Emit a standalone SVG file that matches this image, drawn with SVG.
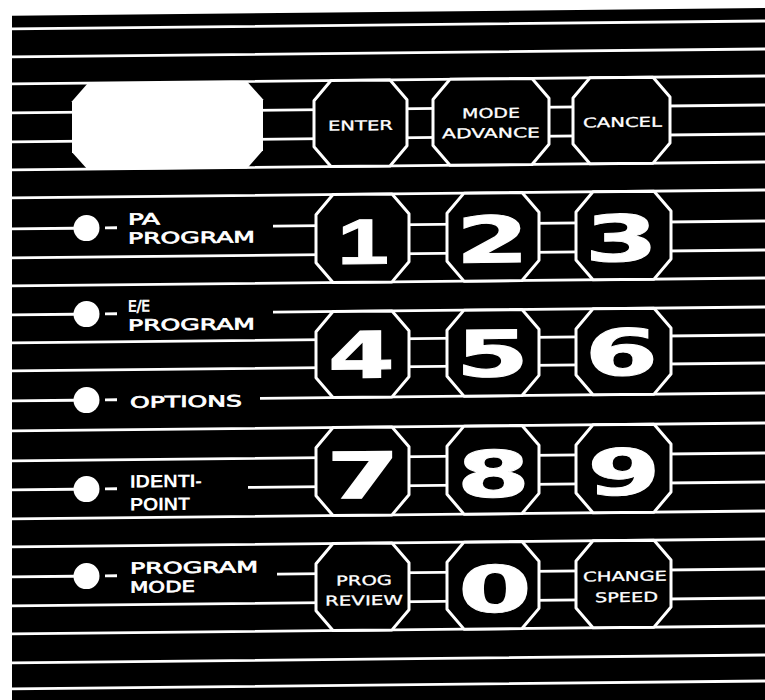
<svg xmlns="http://www.w3.org/2000/svg" width="765" height="700" viewBox="0 0 765 700">
<style>
.ln{stroke:#fff;stroke-width:2.8;fill:none}
.key{fill:#000;stroke:#fff;stroke-width:3;stroke-linejoin:round}
.led{fill:#fff}
.dg{font-family:"DejaVu Sans",sans-serif;font-weight:bold;font-size:64px;fill:#fff;stroke:#fff;stroke-width:1;text-anchor:middle}
.d1{font-family:"Liberation Sans",Arial,sans-serif}
.kt{font-family:"DejaVu Sans",sans-serif;font-size:13.5px;fill:#fff;stroke:#fff;stroke-width:0.3}
.lb{font-family:"DejaVu Sans",sans-serif;font-size:15.5px;fill:#fff;stroke:#fff;stroke-width:0.7}
.lc{font-family:"Liberation Sans",Arial,sans-serif;font-weight:bold;font-size:18px;fill:#fff}
</style>
<rect x="0" y="0" width="765" height="700" fill="#fff"/>
<g transform="translate(0,4) skewY(-0.6)">
<rect id="panel" x="12" y="12" width="800" height="720" fill="#000"/>
<g id="connectors" class="ln">
<path d="M12,25H812M12,53H812M12,80H812M12,109H812M12,138H812M12,166H812M12,194H812M12,254H812M12,282H812M12,339H812M12,367H812M12,427H812M12,457H812M12,515H812M12,543H812M12,602H812M12,630H812M12,659H812M12,685H812"/>
<path d="M12,225H74M105,225H117M273,225H812"/>
<path d="M12,311H74M105,311H117M273,311H812"/>
<path d="M12,397H74M105,397H117M260,397H812"/>
<path d="M12,486H74M105,486H117M248,486H812"/>
<path d="M12,573H74M105,573H117M277,573H812"/>
</g>
<g id="display"><path d="M88,80H247L263,98V149L247,167H88L72,149V98Z" fill="#fff"/></g>
<g id="key-enter"><path class="key" d="M331,80H390L407,100V146L390,166H331L314,146V100Z"/><text class="kt" x="328" y="130" textLength="65" lengthAdjust="spacingAndGlyphs">ENTER</text></g>
<g id="key-mode-advance"><path class="key" d="M450,80H532L549,100V146L532,166H450L433,146V100Z"/><text class="kt" x="462" y="119" textLength="58" lengthAdjust="spacingAndGlyphs">MODE</text><text class="kt" x="442" y="139" textLength="98" lengthAdjust="spacingAndGlyphs">ADVANCE</text></g>
<g id="key-cancel"><path class="key" d="M590,80H653L670,100V146L653,166H590L573,146V100Z"/><text class="kt" x="583" y="129.5" textLength="79" lengthAdjust="spacingAndGlyphs">CANCEL</text></g>
<g id="key-1"><path class="key" d="M333,194H392L409,214V262L392,282H333L316,262V214Z"/><text class="dg d1" transform="translate(363,263.5) scale(1.45,1)">1</text></g>
<g id="key-2"><path class="key" d="M464,194H522L539,214V262L522,282H464L447,262V214Z"/><text class="dg" transform="translate(492.5,263.5) scale(1.65,1)">2</text></g>
<g id="key-3"><path class="key" d="M593,194H654L671,214V262L654,282H593L576,262V214Z"/><text class="dg" transform="translate(621.5,263.5) scale(1.65,1)">3</text></g>
<g id="key-4"><path class="key" d="M333,311H392L409,331V377L392,397H333L316,377V331Z"/><text class="dg" transform="translate(361.5,377.5) scale(1.5,1)">4</text></g>
<g id="key-5"><path class="key" d="M464,311H522L539,331V377L522,397H464L447,377V331Z"/><text class="dg" transform="translate(492.5,377.5) scale(1.65,1)">5</text></g>
<g id="key-6"><path class="key" d="M593,311H654L671,331V377L654,397H593L576,377V331Z"/><text class="dg" transform="translate(621.5,377.5) scale(1.65,1)">6</text></g>
<g id="key-7"><path class="key" d="M333,427H392L409,447V495L392,515H333L316,495V447Z"/><text class="dg" transform="translate(363,498) scale(1.65,1)">7</text></g>
<g id="key-8"><path class="key" d="M464,427H522L539,447V495L522,515H464L447,495V447Z"/><text class="dg" transform="translate(493.5,498) scale(1.65,1)">8</text></g>
<g id="key-9"><path class="key" d="M593,427H654L671,447V495L654,515H593L576,495V447Z"/><text class="dg" transform="translate(624,497.5) scale(1.65,1)">9</text></g>
<g id="key-prog-review"><path class="key" d="M333,543H392L409,563V610L392,630H333L316,610V563Z"/><text class="kt" x="336" y="585" textLength="56" lengthAdjust="spacingAndGlyphs">PROG</text><text class="kt" x="325" y="605" textLength="78" lengthAdjust="spacingAndGlyphs">REVIEW</text></g>
<g id="key-0"><path class="key" d="M464,543H522L539,563V610L522,630H464L447,610V563Z"/><text class="dg" transform="translate(495,613) scale(1.65,1)">0</text></g>
<g id="key-change-speed"><path class="key" d="M593,543H654L671,563V610L654,630H593L576,610V563Z"/><text class="kt" x="583" y="583.5" textLength="84" lengthAdjust="spacingAndGlyphs">CHANGE</text><text class="kt" x="595" y="604.5" textLength="63" lengthAdjust="spacingAndGlyphs">SPEED</text></g>
<g id="ind-pa-program"><circle class="led" cx="86.5" cy="225" r="13"/><text class="lb" x="128" y="222" textLength="32" lengthAdjust="spacingAndGlyphs">PA</text><text class="lb" x="128" y="241" textLength="127" lengthAdjust="spacingAndGlyphs">PROGRAM</text></g>
<g id="ind-ee-program"><circle class="led" cx="86.5" cy="311" r="13"/><text class="lb" x="128" y="309" textLength="22" lengthAdjust="spacingAndGlyphs">E/E</text><text class="lb" x="128" y="328" textLength="127" lengthAdjust="spacingAndGlyphs">PROGRAM</text></g>
<g id="ind-options"><circle class="led" cx="86.5" cy="397" r="13"/><text class="lb" x="130" y="405" textLength="112" lengthAdjust="spacingAndGlyphs">OPTIONS</text></g>
<g id="ind-identi-point"><circle class="led" cx="86.5" cy="486" r="13"/><text class="lc" x="130" y="485" textLength="72" lengthAdjust="spacingAndGlyphs">IDENTI-</text><text class="lc" x="130" y="508" textLength="60" lengthAdjust="spacingAndGlyphs">POINT</text></g>
<g id="ind-program-mode"><circle class="led" cx="86.5" cy="573" r="13"/><text class="lb" x="130" y="571" textLength="128" lengthAdjust="spacingAndGlyphs">PROGRAM</text><text class="lb" x="130" y="590" textLength="65" lengthAdjust="spacingAndGlyphs">MODE</text></g>
</g>
</svg>
